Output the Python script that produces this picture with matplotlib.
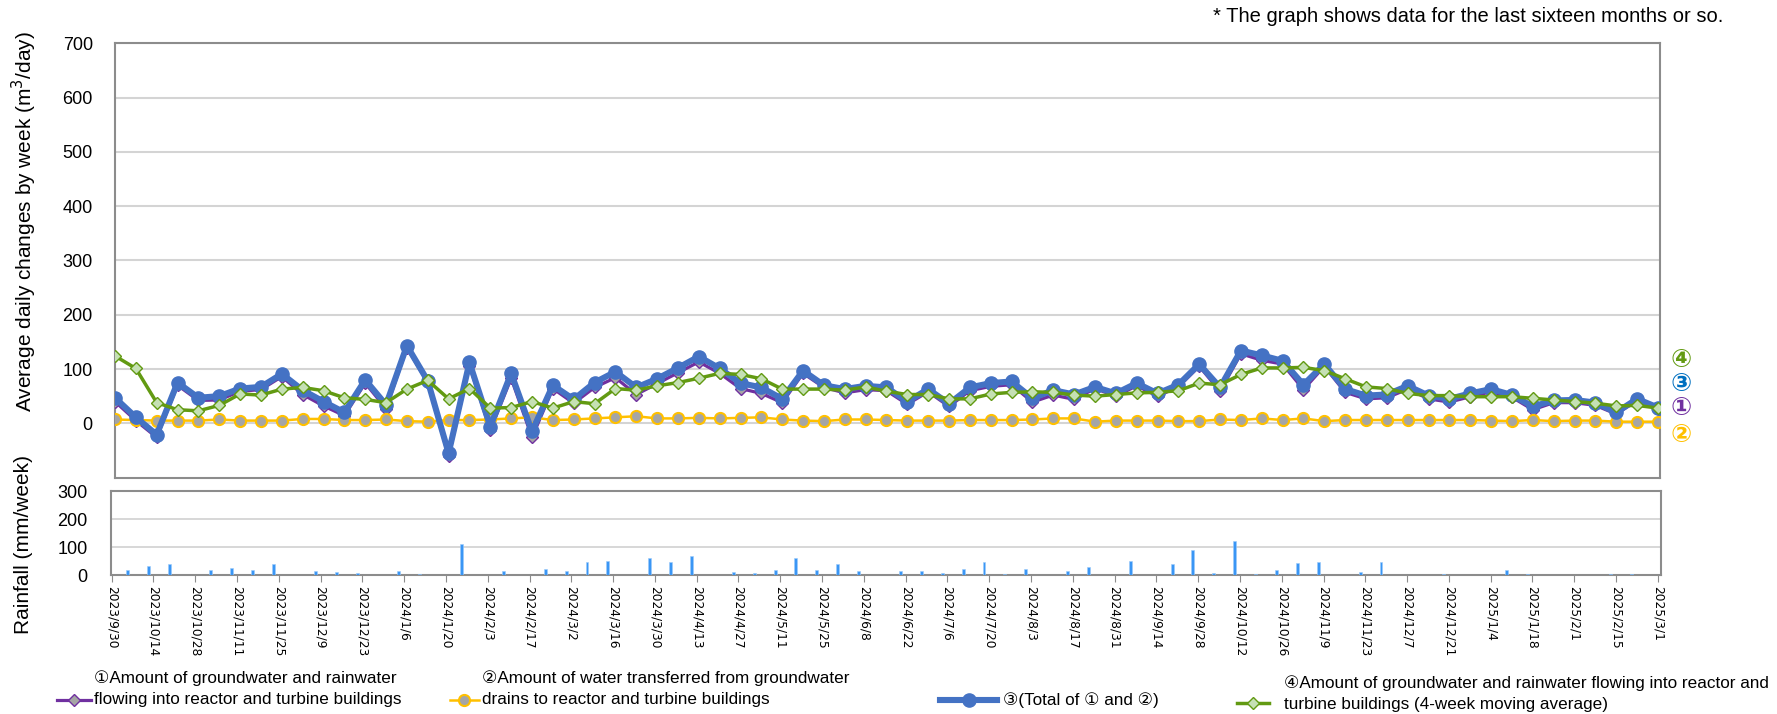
import numpy as np
import pandas as pd
import matplotlib
matplotlib.use("Agg")
import matplotlib.pyplot as plt
from matplotlib.lines import Line2D

# semaines (samedi) du 2023/9/30 au 2025/3/1
dates = pd.date_range("2023-09-30", "2025-03-01", freq="7D")

# (1) eau souterraine + pluie entrant dans les batiments
inflow_bldg = [40, 5, -26, 70, 42, 43, 59, 62, 86, 53,
               32, 14, 74, 27, 139, 75, -61, 106, -13, 83,
               -26, 64, 37, 66, 84, 53, 73, 93, 113, 92,
               64, 55, 38, 92, 66, 56, 62, 60, 35, 58,
               31, 60, 68, 71, 39, 52, 44, 64, 50, 69,
               50, 67, 105, 59, 128, 116, 109, 62, 105, 57,
               45, 47, 63, 45, 39, 49, 58, 48, 25, 38,
               38, 33, 17, 42, 26]
# (2) eau transferee depuis les drains
drain_transfer = [7, 6, 5, 5, 5, 7, 5, 5, 5, 8,
                  8, 6, 6, 7, 4, 3, 6, 6, 7, 9,
                  11, 6, 7, 9, 11, 13, 9, 9, 10, 9,
                  10, 11, 7, 5, 4, 7, 7, 6, 5, 5,
                  5, 6, 6, 6, 7, 9, 9, 3, 5, 5,
                  5, 4, 4, 7, 6, 9, 6, 9, 4, 6,
                  6, 6, 6, 6, 6, 6, 5, 4, 6, 4,
                  5, 5, 3, 3, 3]
# (3) total de (1) et (2)
total = [47, 11, -21, 75, 47, 50, 64, 67, 91, 61,
         40, 20, 80, 34, 143, 78, -55, 112, -6, 92,
         -15, 70, 44, 75, 95, 66, 82, 102, 123, 101,
         74, 66, 45, 97, 70, 63, 69, 66, 40, 63,
         36, 66, 74, 77, 46, 61, 53, 67, 55, 74,
         55, 71, 109, 66, 134, 125, 115, 71, 109, 63,
         51, 53, 69, 51, 45, 55, 63, 52, 31, 42,
         43, 38, 20, 45, 29]
# (4) moyenne mobile sur 4 semaines
moving_avg = [124, 101, 38, 25, 23, 33, 54, 52, 63, 66,
              60, 47, 44, 38, 63, 79, 45, 64, 28, 29,
              40, 28, 40, 36, 64, 61, 69, 75, 83, 92,
              90, 82, 63, 63, 63, 61, 67, 59, 53, 53,
              45, 45, 54, 57, 58, 57, 52, 50, 53, 56,
              57, 60, 74, 71, 90, 102, 102, 103, 97, 82,
              67, 64, 55, 51, 51, 49, 49, 49, 46, 43,
              40, 37, 32, 33, 28]
# pluie (mm/semaine)
rainfall = [0, 18, 32, 38, 0, 18, 26, 18, 38, 0,
            13, 9, 7, 0, 13, 5, 0, 111, 0, 15,
            0, 21, 15, 45, 51, 0, 59, 47, 69, 0,
            11, 8, 18, 60, 18, 38, 15, 0, 15, 14,
            6, 22, 45, 5, 22, 0, 14, 27, 0, 51,
            0, 38, 89, 6, 123, 5, 19, 44, 47, 0,
            11, 45, 0, 0, 3, 0, 0, 19, 4, 0,
            0, 0, 3, 3, 0]

legend_labels = ["\u2460Amount of groundwater and rainwater\nflowing into reactor and turbine buildings",
                 "\u2461Amount of water transferred from groundwater\ndrains to reactor and turbine buildings",
                 "\u2462(Total of \u2460 and \u2461)",
                 "\u2463Amount of groundwater and rainwater flowing into reactor and\nturbine buildings (4-week moving average)"]

PURPLE = "#7030A0"
GOLD = "#FFC000"
BLUE = "#4472C4"
GREEN = "#629A12"
LGREEN = "#C5E0B4"
GRAY = "#A5A5A5"
SPINE = "#8C8C8C"
GRID = "#D4D4D4"

W, H = 1777, 714
fx = lambda px: px / W
fy = lambda py: 1 - py / H
fam = ["Liberation Sans", "DejaVu Sans"]

weeks = np.arange(len(dates))

fig = plt.figure(figsize=(W / 100, H / 100), dpi=100)

# --- graphique principal ---
ax = fig.add_axes([fx(115), fy(477.6), (1660 - 115) / W, (477.6 - 43.2) / H])
ax.plot(weeks, inflow_bldg, color=PURPLE, lw=2.3, marker="D", ms=6,
        mfc=GRAY, mec=PURPLE, mew=1, zorder=3)
ax.plot(weeks, drain_transfer, color=GOLD, lw=1.8, marker="o", ms=8,
        mfc=GRAY, mec=GOLD, mew=1.5, zorder=4)
ax.plot(weeks, total, color=BLUE, lw=4.4, marker="o", ms=9.5,
        mfc=BLUE, mec=BLUE, zorder=5)
ax.plot(weeks, moving_avg, color=GREEN, lw=2.5, marker="D", ms=6.5,
        mfc=LGREEN, mec=GREEN, mew=1, zorder=6)
ax.set_xlim(0, len(dates) - 0.9)
ax.set_ylim(-100, 700)
ax.set_yticks(range(0, 701, 100))
ax.set_xticks([])
ax.grid(axis="y", color=GRID, lw=1.5, zorder=0)
ax.set_axisbelow(True)
ax.tick_params(axis="y", length=0, pad=16, labelsize=13)
for lab in ax.get_yticklabels():
    lab.set_family(fam)
for s in ax.spines.values():
    s.set_color(SPINE)
    s.set_linewidth(1.5)

# --- pluie ---
axr = fig.add_axes([fx(111), fy(575), 1550 / W, 84 / H])
axr.bar(weeks - 0.25, rainfall, width=0.14, color="#3A96F5",
        edgecolor="#9CCBFA", linewidth=0.4, zorder=3)
axr.set_xlim(-0.03, len(dates) - 0.85)
axr.set_ylim(0, 300)
axr.set_yticks(range(0, 301, 100))
axr.grid(axis="y", color=GRID, lw=1.3, zorder=0)
axr.set_axisbelow(True)
tick_weeks = weeks[::2]
tick_labels = [f"{d.year}/{d.month}/{d.day}" for d in dates[::2]]
axr.set_xticks(tick_weeks)
axr.set_xticklabels(tick_labels, rotation=-90, fontsize=8.8, family="DejaVu Sans")
axr.tick_params(axis="x", length=5, color=SPINE, pad=3)
axr.tick_params(axis="y", length=0, pad=17, labelsize=13)
for lab in axr.get_yticklabels():
    lab.set_family(fam)
for s in axr.spines.values():
    s.set_color(SPINE)
    s.set_linewidth(1.5)

# --- textes ---
fig.text(fx(24), fy(222), "Average daily changes by week (m$^3$/day)", rotation=90,
         ha="center", va="center", fontsize=15, family=fam)
fig.text(fx(24), fy(544), "Rainfall (mm/week)", rotation=90,
         ha="center", va="center", fontsize=15, family=fam)
fig.text(fx(1723), fy(17), "* The graph shows data for the last sixteen months or so.",
         ha="right", va="center", fontsize=14.5, family=fam)

for txt, col, ypx in [("\u2463", GREEN, 360), ("\u2462", "#0070C0", 384),
                      ("\u2460", PURPLE, 408), ("\u2461", GOLD, 435)]:
    fig.text(fx(1681), fy(ypx), txt, color=col, fontsize=18, fontweight="bold",
             ha="center", va="center", family="DejaVu Sans")

# --- legende ---
keys = [
    (57, 91, 700, dict(color=PURPLE, lw=2.3), dict(marker="D", ms=6, mfc=GRAY, mec=PURPLE)),
    (450, 479, 700, dict(color=GOLD, lw=1.8), dict(marker="o", ms=8, mfc=GRAY, mec=GOLD, mew=1.5)),
    (940, 997, 700, dict(color=BLUE, lw=4.4), dict(marker="o", ms=9.5, mfc=BLUE, mec=BLUE)),
    (1237, 1269, 703, dict(color=GREEN, lw=2.5), dict(marker="D", ms=6.5, mfc=LGREEN, mec=GREEN)),
]
for x0, x1, y, lkw, mkw in keys:
    fig.add_artist(Line2D([fx(x0), fx(x1)], [fy(y), fy(y)], transform=fig.transFigure, **lkw))
    fig.add_artist(Line2D([fx((x0 + x1) / 2)], [fy(y)], transform=fig.transFigure,
                          color=lkw["color"], **mkw))

text_pos = [(94, 689), (482, 689), (1003, 700), (1284, 694)]
for (tx, ty), lab in zip(text_pos, legend_labels):
    fig.text(fx(tx), fy(ty), lab, ha="left", va="center", fontsize=12.3,
             family=fam, linespacing=1.5)

fig.savefig("out.png", dpi=100)
